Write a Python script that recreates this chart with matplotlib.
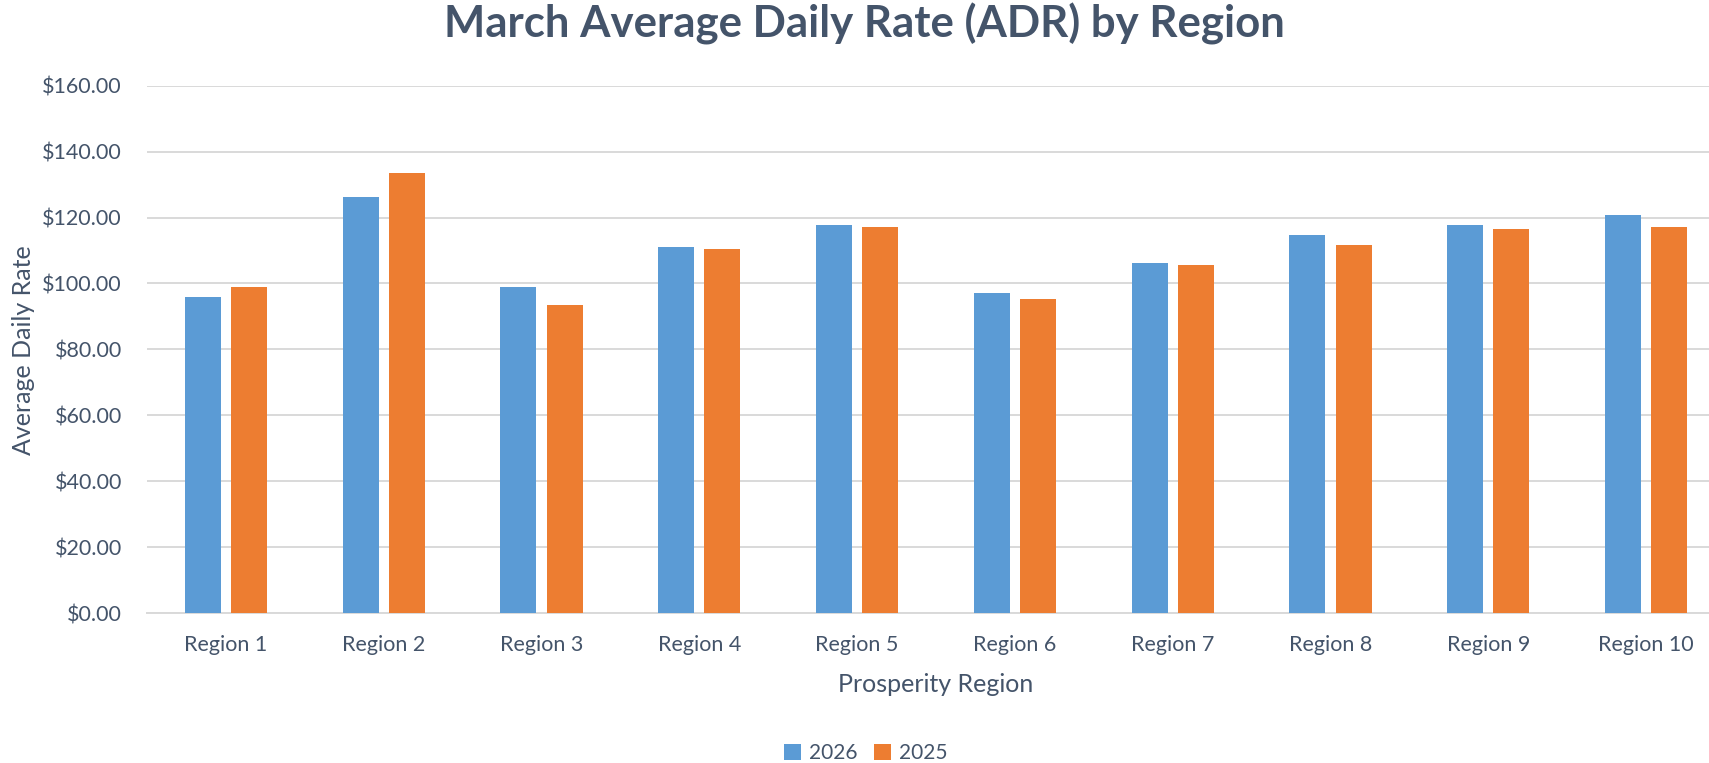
import numpy as np
import matplotlib
matplotlib.use("Agg")
import matplotlib.pyplot as plt
from matplotlib.ticker import FuncFormatter

# Chart data
regions = ["Region 1", "Region 2", "Region 3", "Region 4", "Region 5",
           "Region 6", "Region 7", "Region 8", "Region 9", "Region 10"]
adr_2026 = [96.0, 126.3, 99.0, 111.1, 117.8, 97.2, 106.3, 114.7, 117.8, 120.8]
adr_2025 = [99.0, 133.5, 93.5, 110.5, 117.2, 95.4, 105.7, 111.7, 116.6, 117.2]
series_names = ["2026", "2025"]

TEXT = "#44546A"
BLUE = "#5B9BD5"
ORANGE = "#ED7D31"
GRID = "#D9D9D9"

plt.rcParams['font.family'] = ['Lato', 'DejaVu Sans']

W, H = 1709, 763
fig = plt.figure(figsize=(W / 100, H / 100), dpi=100)

# plot area in pixels (left, bottom edge of $0, top, width) - runs past right edge
left, x0_y, top_y, width = 147, 613, 85.7, 1578
ax = fig.add_axes([left / W, (H - x0_y) / H, width / W, (x0_y - top_y) / H])

x = np.arange(len(regions))
bw = 0.228
off = 0.146
ax.bar(x - off, adr_2026, bw, color=BLUE, label=series_names[0], zorder=3)
ax.bar(x + off, adr_2025, bw, color=ORANGE, label=series_names[1], zorder=3)

ax.set_xlim(-0.5, len(regions) - 0.5)
ax.set_ylim(0, 160)
ax.set_yticks(np.arange(0, 161, 20))
ax.yaxis.set_major_formatter(FuncFormatter(lambda v, p: f"${v:,.2f}"))
ax.set_xticks(x)
ax.set_xticklabels(regions)

ax.grid(axis='y', color=GRID, linewidth=1.4, zorder=0)
for s in ["top", "right", "left"]:
    ax.spines[s].set_visible(False)
ax.spines["bottom"].set_color(GRID)
ax.spines["bottom"].set_linewidth(1.4)
ax.tick_params(length=0, labelsize=15.5, colors=TEXT)
ax.tick_params(axis='y', pad=18)
ax.tick_params(axis='x', pad=16)

# axis titles
ax.set_ylabel("Average Daily Rate", fontsize=18, color=TEXT)
ax.yaxis.set_label_coords(-(left - 24) / width, (x0_y - 350) / (x0_y - top_y))
ax.set_xlabel("Prosperity Region", fontsize=18, color=TEXT)
ax.xaxis.set_label_coords(0.5, -(685 - x0_y) / (x0_y - top_y))
ax.xaxis.label.set_va("center")
ax.yaxis.label.set_va("center")

fig.text(864 / W, 1 - 24 / H, "March Average Daily Rate (ADR) by Region",
         ha="center", va="center", fontsize=31.5, fontweight="bold", color=TEXT)

fig.legend(loc="center", bbox_to_anchor=(866 / W, 1 - 753 / H), ncol=2,
           frameon=False, fontsize=15, labelcolor=TEXT, handlelength=0.8,
           handleheight=0.8, handletextpad=0.4, columnspacing=0.8)

fig.savefig("out.png", dpi=100)
